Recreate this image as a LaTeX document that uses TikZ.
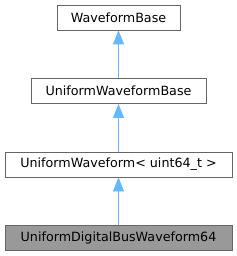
\documentclass[tikz,border=0pt]{standalone}
\usepackage{fontspec}
\setmainfont{DejaVu Sans}
\usetikzlibrary{arrows.meta}
\definecolor{edgeblue}{HTML}{63B8FF}
\definecolor{boxline}{HTML}{666666}
\definecolor{boxgray}{HTML}{999999}
\tikzset{
  cls/.style={draw=boxline, line width=0.8pt, fill=white, minimum height=25pt, inner sep=0pt, font=\fontsize{12.7}{15}\selectfont},
  inh/.style={draw=edgeblue, line width=0.8pt, -{Triangle[length=14pt,width=11pt,fill=edgeblue]}}
}
\begin{document}
\begin{tikzpicture}[x=1pt,y=-1pt]
\useasboundingbox (0,0) rectangle (237,256);
\node[cls, minimum width=123pt] (a) at (118.5,17.5) {WaveformBase};
\node[cls, minimum width=175pt] (b) at (118.5,91) {UniformWaveformBase};
\node[cls, minimum width=227pt] (c) at (118.5,164.5) {UniformWaveform< uint64\_t >};
\node[cls, minimum width=227pt, fill=boxgray] (d) at (118.5,238) {UniformDigitalBusWaveform64};
\draw[inh] (b.north) -- (a.south);
\draw[inh] (c.north) -- (b.south);
\draw[inh] (d.north) -- (c.south);
\end{tikzpicture}
\end{document}
